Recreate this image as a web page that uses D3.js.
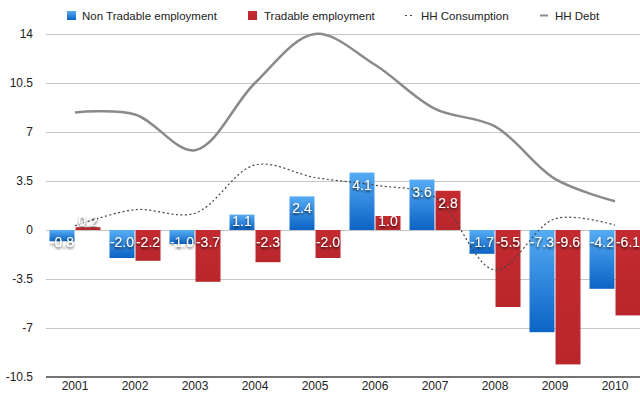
<!DOCTYPE html>
<html>
<head>
<meta charset="utf-8">
<script src="https://cdn.jsdelivr.net/npm/d3@7"></script>
<style>
  html, body { margin: 0; padding: 0; background: #fff; }
  svg { display: block; font-family: "Liberation Sans", Arial, Helvetica, sans-serif; }
</style>
</head>
<body>
<svg id="chart" width="640" height="393"></svg>
<script>
// Years on the category axis
const years = ["2001", "2002", "2003", "2004", "2005", "2006", "2007", "2008", "2009", "2010"];
// Employment growth, bars
const nonTradable = [-0.8, -2.0, -1.0, 1.1, 2.4, 4.1, 3.6, -1.7, -7.3, -4.2];
const tradable = [0.2, -2.2, -3.7, -2.3, -2.0, 1.0, 2.8, -5.5, -9.6, -6.1];
// Household series, lines
const hhConsumption = [0.3, 1.45, 1.2, 4.65, 3.75, 3.2, 2.35, -2.85, 0.8, 0.35];
const hhDebt = [8.4, 8.25, 5.7, 10.5, 14.0, 11.8, 8.65, 7.4, 3.65, 2.05];
// Value axis ticks
const yTicks = [14, 10.5, 7, 3.5, 0, -3.5, -7, -10.5];

const seriesNames = ["Non Tradable employment", "Tradable employment"];

const svg = d3.select("#chart");
const defs = svg.append("defs");

const blueGrad = defs.append("linearGradient")
  .attr("id", "blueGrad").attr("x1", 0).attr("y1", 0).attr("x2", 0).attr("y2", 1);
blueGrad.append("stop").attr("offset", "0%").attr("stop-color", "#56acf4");
blueGrad.append("stop").attr("offset", "100%").attr("stop-color", "#0b63c5");

const redGrad = defs.append("linearGradient")
  .attr("id", "redGrad").attr("x1", 0).attr("y1", 0).attr("x2", 0).attr("y2", 1);
redGrad.append("stop").attr("offset", "0%").attr("stop-color", "#c42b31");
redGrad.append("stop").attr("offset", "100%").attr("stop-color", "#b8262b");

const shadow = defs.append("filter").attr("id", "txtShadow")
  .attr("x", "-30%").attr("y", "-40%").attr("width", "160%").attr("height", "180%");
shadow.append("feDropShadow")
  .attr("dx", 0).attr("dy", 1.5).attr("stdDeviation", 1)
  .attr("flood-color", "#000").attr("flood-opacity", 0.8);

const x = d3.scaleBand().domain(years).range([45, 645]);
const xInner = d3.scaleBand().domain(seriesNames).range([4.5, 55.5]).paddingInner(0.04);
const y = d3.scaleLinear().domain([-10.5, 14]).range([377, 34]);

const gridLeft = 46, gridRight = 640;

// Horizontal gridlines
svg.append("g").selectAll("line")
  .data(yTicks.filter(t => t !== -10.5))
  .join("line")
  .attr("x1", gridLeft).attr("x2", gridRight)
  .attr("y1", d => Math.round(y(d)) + 0.5).attr("y2", d => Math.round(y(d)) + 0.5)
  .attr("stroke", "#c6c6c6").attr("stroke-width", 1);

// Y tick labels
svg.append("g").selectAll("text")
  .data(yTicks)
  .join("text")
  .attr("x", 33).attr("y", d => y(d) + 4)
  .attr("text-anchor", "end")
  .attr("font-size", 12).attr("fill", "#222")
  .text(d => d);

// Bars
const barData = [];
years.forEach((yr, i) => {
  barData.push({ year: yr, series: seriesNames[0], value: nonTradable[i] });
  barData.push({ year: yr, series: seriesNames[1], value: tradable[i] });
});

svg.append("g").selectAll("rect")
  .data(barData)
  .join("rect")
  .attr("x", d => x(d.year) + xInner(d.series))
  .attr("width", xInner.bandwidth())
  .attr("y", d => y(Math.max(0, d.value)))
  .attr("height", d => Math.abs(y(d.value) - y(0)))
  .attr("fill", d => d.series === seriesNames[0] ? "url(#blueGrad)" : "url(#redGrad)");

// Bottom axis line and year labels
svg.append("line")
  .attr("x1", gridLeft).attr("x2", gridRight)
  .attr("y1", y(-10.5)).attr("y2", y(-10.5))
  .attr("stroke", "#444").attr("stroke-width", 1.5);

svg.append("g").selectAll("text")
  .data(years)
  .join("text")
  .attr("x", d => x(d) + x.bandwidth() / 2)
  .attr("y", 390)
  .attr("text-anchor", "middle")
  .attr("font-size", 12).attr("fill", "#222")
  .text(d => d);

// Household lines
const line = d3.line()
  .x((d, i) => x(years[i]) + x.bandwidth() / 2)
  .y(d => y(d))
  .curve(d3.curveCatmullRom.alpha(0.5));

svg.append("path")
  .datum(hhDebt)
  .attr("d", line)
  .attr("fill", "none")
  .attr("stroke", "#8a8a8a").attr("stroke-width", 2.5);

svg.append("path")
  .datum(hhConsumption)
  .attr("d", line)
  .attr("fill", "none")
  .attr("stroke", "#444").attr("stroke-width", 1.2)
  .attr("stroke-dasharray", "2,2.5");

// Value labels on the bars
const zeroY = y(0);
svg.append("g").selectAll("text")
  .data(barData)
  .join("text")
  .attr("x", d => x(d.year) + xInner(d.series) + xInner.bandwidth() / 2)
  .attr("y", d => {
    const cy = d.value >= 0 ? Math.min(y(d.value) + 12, zeroY - 9) : zeroY + 12;
    return cy + 5;
  })
  .attr("text-anchor", "middle")
  .attr("font-size", 14).attr("fill", "#fff")
  .attr("filter", "url(#txtShadow)")
  .text(d => d.value.toFixed(1));

// Legend
const legend = svg.append("g").attr("font-size", 11.5).attr("fill", "#222");
legend.append("rect").attr("x", 67).attr("y", 11).attr("width", 9).attr("height", 9).attr("fill", "url(#blueGrad)");
legend.append("text").attr("x", 82).attr("y", 19.5).text(seriesNames[0]);
legend.append("rect").attr("x", 248).attr("y", 11).attr("width", 9).attr("height", 9).attr("fill", "url(#redGrad)");
legend.append("text").attr("x", 264).attr("y", 19.5).text(seriesNames[1]);
legend.append("line").attr("x1", 405).attr("x2", 413).attr("y1", 15.5).attr("y2", 15.5)
  .attr("stroke", "#444").attr("stroke-width", 1.2).attr("stroke-dasharray", "2,3");
legend.append("text").attr("x", 421).attr("y", 19.5).text("HH Consumption");
legend.append("line").attr("x1", 540).attr("x2", 548).attr("y1", 15.5).attr("y2", 15.5)
  .attr("stroke", "#8a8a8a").attr("stroke-width", 2);
legend.append("text").attr("x", 555).attr("y", 19.5).text("HH Debt");
</script>
</body>
</html>
